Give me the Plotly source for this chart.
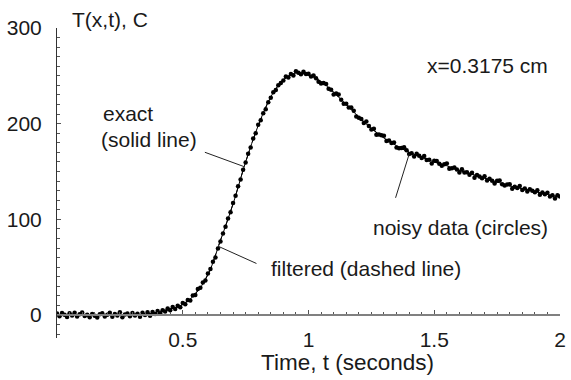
import plotly.graph_objects as go

# ---- data ----
t_model = [0.00, 0.05, 0.10, 0.15, 0.20, 0.25, 0.30, 0.35, 0.40, 0.45,
           0.50, 0.55, 0.60, 0.65, 0.70, 0.75, 0.80, 0.85, 0.90, 0.95,
           1.00, 1.05, 1.10, 1.15, 1.20, 1.25, 1.30, 1.35, 1.40, 1.45,
           1.50, 1.55, 1.60, 1.65, 1.70, 1.75, 1.80, 1.85, 1.90, 1.95, 2.00]
T_exact = [0, 0, 0, 0, 0, 0, 0.2, 0.8, 2.5, 6,
           11, 22, 42, 78, 116, 160, 198, 228, 246, 253,
           251, 244, 233, 220, 207, 195, 185, 177, 170, 165,
           160, 156, 151, 147, 143, 139, 135, 132, 129, 126, 123]
T_filtered = [0.3, 0.1, 0.2, 0.1, 0.2, 0.3, 0.5, 1.1, 2.8, 6.3,
              11.4, 22.5, 42.6, 78.3, 116.4, 159.8, 197.5, 227.4, 245.6, 252.6,
              250.7, 243.8, 232.8, 219.9, 207.1, 195.2, 185.1, 177.2, 170.3, 165.1,
              160.2, 155.9, 151.1, 147.1, 143.0, 139.1, 135.2, 132.0, 129.1, 126.0, 123.2]

t_noisy = [i / 100 for i in range(201)]
T_noisy = [
    1.5, -1.2, 2.1, 0.3, -2.0, 1.8, -0.5, 2.4, -1.6, 0.9,
    2.6, -1.1, 0.4, -2.3, 1.2, -0.8, -2.6, 0.7, 1.9, -1.4,
    0.2, 2.3, -1.9, 1.0, -0.6, 2.8, -2.2, 0.5, 1.6, -1.3,
    2.0, -0.4, 1.4, -1.8, 2.5, 0.1, 2.9, -0.7, 3.1, 1.2,
    4.2, 1.8, 5.0, 3.6, 6.9, 5.1, 8.3, 6.4, 9.8, 8.2,
    12.5, 11.3, 15.8, 15.1, 20.4, 21.0, 27.1, 28.5, 33.9, 36.2,
    43.5, 48.1, 55.6, 60.2, 69.5, 76.8, 85.1, 92.4, 100.9, 107.3,
    117.2, 124.8, 134.5, 141.6, 151.9, 159.4, 168.7, 175.2, 184.6, 190.1,
    198.8, 203.5, 210.9, 215.2, 222.4, 227.1, 232.8, 235.3, 240.2, 242.5,
    245.1, 249.2, 248.3, 251.9, 250.4, 254.7, 253.1, 251.6, 254.2, 252.0,
    252.3, 249.2, 250.4, 247.6, 243.9, 241.9, 242.4, 241.5, 236.5, 235.4,
    230.6, 231.5, 230.5, 224.9, 220.8, 220.9, 216.8, 216.8, 213.6, 207.4,
    206.3, 205.0, 200.6, 202.3, 197.7, 193.9, 194.7, 188.4, 188.8, 188.0,
    187.3, 182.0, 182.5, 179.7, 180.4, 175.0, 174.4, 174.7, 175.4, 172.3,
    168.3, 169.1, 165.7, 168.5, 166.6, 164.2, 166.1, 162.0, 162.4, 158.5,
    161.2, 161.1, 158.1, 156.1, 157.6, 158.4, 152.9, 153.4, 154.3, 152.2,
    149.1, 152.4, 149.0, 149.3, 146.5, 148.6, 143.5, 146.3, 144.9, 142.9,
    145.0, 140.6, 142.5, 140.4, 137.6, 140.4, 140.7, 136.7, 135.5, 136.4,
    136.8, 132.0, 134.0, 132.7, 134.9, 130.8, 132.3, 129.0, 131.4, 130.0,
    128.4, 130.5, 125.8, 128.2, 126.3, 127.7, 124.0, 125.3, 121.9, 125.2,
    123.8]

x_ticks = [0.5, 1, 1.5, 2]
x_ticklabels = ["0.5", "1", "1.5", "2"]
y_ticks = [0, 100, 200, 300]
y_ticklabels = ["0", "100", "200", "300"]

FONT = "Liberation Sans, Arial, sans-serif"
FS = 21
TXT = "#1a1a1a"

fig = go.Figure()
fig.add_trace(go.Scatter(x=t_model, y=T_exact, mode="lines", line=dict(color="black", width=1, shape="spline"),
                         showlegend=False, hoverinfo="skip"))
fig.add_trace(go.Scatter(x=t_model, y=T_filtered, mode="lines",
                         line=dict(color="black", width=1, dash="dash", shape="spline"),
                         showlegend=False, hoverinfo="skip"))
fig.add_trace(go.Scatter(x=t_noisy, y=T_noisy, mode="markers",
                         marker=dict(color="black", size=4.5, line=dict(width=0)),
                         showlegend=False))

ymin, ymax = -24, 300
fig.update_layout(
    width=571, height=380,
    margin=dict(l=57, r=5, t=28, b=42),
    paper_bgcolor="white", plot_bgcolor="white",
    font=dict(family=FONT, size=FS, color=TXT),
    xaxis=dict(range=[0, 2], anchor="free", position=(0 - ymin) / (ymax - ymin),
               showgrid=False, zeroline=False, showline=True, linecolor="#808080", linewidth=1.5,
               tickvals=x_ticks, ticktext=x_ticklabels, ticks="inside", ticklen=4, tickcolor="#555",
               ticklabelstandoff=6, ticklabeloverflow="allow",
               minor=dict(dtick=0.05, ticks="inside", ticklen=2.5, tickcolor="#555", showgrid=False)),
    yaxis=dict(range=[ymin, ymax], showgrid=False, zeroline=False, showline=True, linecolor="#333",
               linewidth=1, tickvals=y_ticks, ticktext=y_ticklabels, ticks="inside", ticklen=4,
               tickcolor="#555", ticklabelstandoff=10,
               minor=dict(dtick=10, ticks="inside", ticklen=2.5, tickcolor="#555", showgrid=False)),
)

anns = [
    dict(text="T(x,t), C", xref="paper", yref="paper", x=0.025, y=1.026, xanchor="left", yanchor="middle", size=FS),
    dict(text="x=0.3175 cm", xref="x", yref="y", x=1.71, y=261, xanchor="center", yanchor="middle", size=FS),
    dict(text="exact", xref="x", yref="y", x=0.176, y=211, xanchor="left", yanchor="middle", size=FS),
    dict(text="(solid line)", xref="x", yref="y", x=0.166, y=183, xanchor="left", yanchor="middle", size=FS),
    dict(text="noisy data (circles)", xref="x", yref="y", x=1.605, y=91, xanchor="center", yanchor="middle", size=FS),
    dict(text="filtered (dashed line)", xref="x", yref="y", x=1.229, y=49, xanchor="center", yanchor="middle", size=FS),
    dict(text="Time, t (seconds)", xref="paper", yref="paper", x=0.577, y=-0.08, xanchor="center", yanchor="middle", size=22.5),
]
for a in anns:
    sz = a.pop("size")
    fig.add_annotation(showarrow=False, font=dict(family=FONT, size=sz, color=TXT), **a)

# leader lines (annotation arrows without heads)
leaders = [(0.745, 155, -41, -15), (0.64, 72, 40, 18), (1.40, 168, -14, 45)]
for (lx, ly, ax, ay) in leaders:
    fig.add_annotation(x=lx, y=ly, xref="x", yref="y", text="", showarrow=True, arrowhead=0,
                       arrowwidth=1, arrowcolor="#222", ax=ax, ay=ay, standoff=0, startstandoff=0)

fig.write_html("out.html")
